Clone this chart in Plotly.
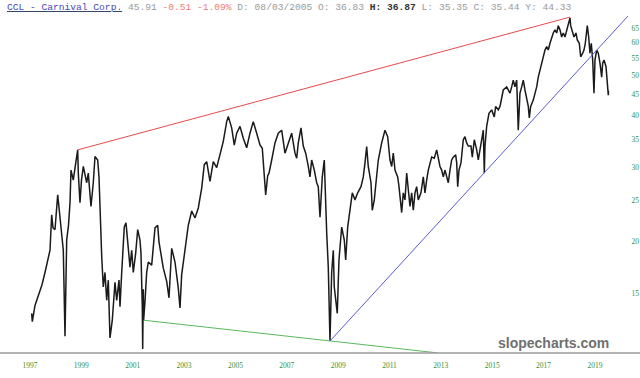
import plotly.graph_objects as go

# ---- price series (decimal year, price) ----
years = [
    1997.066, 1997.090, 1997.195, 1997.323, 1997.467, 1997.584, 1997.701, 1997.779, 1997.845, 1997.896,
    1997.974, 1998.079, 1998.168, 1998.246, 1998.297, 1998.363, 1998.390, 1998.429, 1998.499, 1998.558,
    1998.597, 1998.686, 1998.772, 1998.857, 1998.881, 1998.947, 1999.005, 1999.076, 1999.208, 1999.270,
    1999.375, 1999.465, 1999.531, 1999.636, 1999.687, 1999.737, 1999.792, 1999.854, 1999.920, 1999.987,
    2000.049, 2000.115, 2000.205, 2000.310, 2000.376, 2000.466, 2000.505, 2000.571, 2000.672, 2000.738,
    2000.804, 2000.894, 2000.960, 2001.023, 2001.116, 2001.194, 2001.283, 2001.322, 2001.373, 2001.389,
    2001.412, 2001.424, 2001.478, 2001.544, 2001.607, 2001.739, 2001.868, 2001.973, 2002.023, 2002.101,
    2002.191, 2002.323, 2002.413, 2002.518, 2002.646, 2002.775, 2002.841, 2002.907, 2003.036, 2003.164,
    2003.297, 2003.425, 2003.554, 2003.686, 2003.787, 2003.881, 2004.009, 2004.138, 2004.270, 2004.399,
    2004.527, 2004.660, 2004.722, 2004.854, 2004.955, 2005.049, 2005.177, 2005.306, 2005.438, 2005.567,
    2005.695, 2005.828, 2005.956, 2006.046, 2006.124, 2006.178, 2006.256, 2006.307, 2006.412, 2006.540,
    2006.669, 2006.801, 2006.930, 2007.058, 2007.190, 2007.319, 2007.385, 2007.448, 2007.553, 2007.642,
    2007.736, 2007.837, 2007.903, 2007.969, 2008.071, 2008.164, 2008.226, 2008.293, 2008.332, 2008.382,
    2008.460, 2008.487, 2008.554, 2008.616, 2008.663, 2008.682, 2008.748, 2008.811, 2008.849, 2008.904,
    2008.966, 2009.032, 2009.138, 2009.239, 2009.293, 2009.371, 2009.461, 2009.551, 2009.656, 2009.761,
    2009.889, 2009.979, 2010.045, 2010.111, 2010.173, 2010.279, 2010.329, 2010.407, 2010.473, 2010.563,
    2010.695, 2010.824, 2010.929, 2011.018, 2011.085, 2011.147, 2011.213, 2011.318, 2011.369, 2011.447,
    2011.474, 2011.536, 2011.603, 2011.669, 2011.731, 2011.797, 2011.863, 2011.926, 2011.992, 2012.058,
    2012.120, 2012.225, 2012.315, 2012.381, 2012.447, 2012.510, 2012.642, 2012.743, 2012.837, 2012.899,
    2012.965, 2013.031, 2013.094, 2013.160, 2013.226, 2013.289, 2013.355, 2013.421, 2013.483, 2013.577,
    2013.616, 2013.655, 2013.705, 2013.783, 2013.873, 2013.939, 2014.005, 2014.068, 2014.173, 2014.224,
    2014.302, 2014.395, 2014.457, 2014.523, 2014.589, 2014.652, 2014.691, 2014.718, 2014.784, 2014.873,
    2014.978, 2015.080, 2015.134, 2015.236, 2015.302, 2015.430, 2015.563, 2015.691, 2015.757, 2015.820,
    2015.886, 2015.952, 2016.014, 2016.080, 2016.147, 2016.209, 2016.275, 2016.341, 2016.404, 2016.443,
    2016.497, 2016.598, 2016.665, 2016.731, 2016.793, 2016.859, 2016.926, 2016.988, 2017.054, 2017.120,
    2017.183, 2017.249, 2017.315, 2017.377, 2017.443, 2017.510, 2017.572, 2017.638, 2017.704, 2017.767,
    2017.833, 2017.899, 2017.961, 2018.028, 2018.055, 2018.133, 2018.183, 2018.261, 2018.312, 2018.390,
    2018.444, 2018.522, 2018.573, 2018.624, 2018.702, 2018.756, 2018.806, 2018.857, 2018.912, 2018.962,
    2019.001, 2019.067, 2019.130, 2019.196, 2019.262, 2019.301, 2019.352, 2019.430, 2019.457, 2019.481,
    2019.520, 2019.527,
]

prices = [
    13.4, 12.8, 14.0, 14.7, 15.7, 16.8, 18.0, 19.0, 23.1, 21.5,
    21.3, 25.8, 22.8, 20.7, 19.0, 11.8, 17.3, 20.1, 21.8, 24.7,
    29.6, 28.0, 30.5, 33.1, 29.1, 24.7, 28.0, 30.2, 27.6, 29.1,
    24.2, 27.6, 31.9, 31.3, 28.5, 22.1, 18.4, 15.5, 16.8, 14.4,
    16.1, 11.7, 12.9, 15.9, 14.4, 16.1, 13.9, 16.8, 21.6, 22.1,
    20.1, 17.3, 19.0, 16.8, 18.7, 21.3, 20.1, 18.7, 13.9, 11.0,
    15.3, 12.9, 14.3, 16.8, 17.8, 17.5, 21.5, 21.8, 19.9, 18.5,
    17.2, 16.0, 14.6, 19.2, 17.8, 15.4, 13.8, 16.6, 18.8, 21.8,
    23.6, 22.7, 24.0, 26.8, 30.5, 31.0, 27.8, 31.0, 30.0, 32.2,
    34.7, 38.7, 39.8, 37.4, 34.0, 36.3, 37.7, 35.3, 33.5, 36.3,
    38.7, 36.3, 34.0, 33.4, 28.7, 25.8, 28.7, 29.1, 31.3, 34.4,
    36.3, 36.9, 32.5, 34.4, 36.3, 32.5, 31.6, 34.4, 37.4, 33.8,
    32.5, 30.2, 28.5, 31.3, 29.6, 27.6, 27.0, 22.8, 25.1, 28.5,
    31.3, 27.0, 20.9, 17.3, 12.9, 11.5, 16.8, 19.0, 15.5, 14.4,
    13.4, 18.0, 21.6, 20.1, 18.0, 21.6, 23.7, 26.1, 25.1, 26.1,
    27.0, 28.5, 30.8, 33.7, 30.2, 27.6, 23.7, 25.1, 27.6, 31.3,
    34.4, 36.9, 35.6, 31.3, 30.2, 32.5, 29.6, 28.5, 27.0, 24.2,
    23.4, 26.1, 25.1, 29.1, 26.1, 24.2, 26.1, 23.7, 26.1, 27.0,
    25.1, 26.1, 28.5, 26.1, 28.0, 29.6, 31.8, 31.6, 33.1, 31.8,
    30.2, 29.6, 28.5, 29.6, 28.5, 27.6, 29.6, 31.3, 31.8, 32.2,
    30.8, 27.0, 29.6, 30.8, 35.0, 35.6, 34.4, 33.8, 33.8, 31.8,
    35.0, 33.1, 31.3, 33.1, 34.4, 36.9, 29.1, 33.8, 37.7, 40.5,
    41.3, 39.7, 42.1, 41.3, 42.1, 46.1, 46.9, 45.3, 46.9, 48.7,
    46.9, 48.7, 36.9, 45.3, 46.9, 48.7, 46.1, 43.6, 42.1, 39.5,
    42.1, 43.6, 45.3, 46.9, 49.5, 51.5, 53.5, 55.4, 57.5, 58.6,
    57.5, 59.7, 61.8, 63.2, 64.3, 63.2, 65.8, 64.3, 61.8, 63.2,
    61.8, 64.3, 67.1, 68.7, 65.8, 63.2, 61.8, 63.2, 60.8, 59.7,
    55.4, 56.5, 57.5, 59.7, 65.8, 61.8, 56.5, 59.7, 54.4, 45.3,
    54.4, 57.5, 56.5, 53.5, 49.5, 53.5, 54.4, 52.5, 50.6, 48.7,
    44.8, 45.91,
]

# ---- trend lines (endpoints) ----
red_years = [1998.857, 2018.028]
red_prices = [33.1, 69.0]
green_years = [2001.424, 2012.849]
green_prices = [12.9, 10.77]
blue_years = [2008.682, 2020.286]
blue_prices = [11.5, 69.4]

# ---- axis ticks ----
x_tick_years = [1997, 1999, 2001, 2003, 2005, 2007, 2009, 2011, 2013, 2015, 2017, 2019]
x_tick_labels = [str(y) for y in x_tick_years]
y_tick_values = [15, 20, 25, 30, 35, 40, 45, 50, 55, 60, 65]
y_tick_labels = [str(v) for v in y_tick_values]

# ---- header values ----
ticker = "CCL - Carnival Corp."
last_price = "45.91"
change = "-0.51"
change_pct = "-1.09%"
bar_date = "08/03/2005"
bar_open = "36.83"
bar_high = "36.87"
bar_low = "35.35"
bar_close = "35.44"
bar_y = "44.33"

fig = go.Figure()
fig.add_trace(go.Scatter(x=years, y=prices, mode="lines",
                         line=dict(color="#1a1a1a", width=1.5), hoverinfo="skip"))
fig.add_trace(go.Scatter(x=red_years, y=red_prices, mode="lines",
                         line=dict(color="#e84a4a", width=1), hoverinfo="skip"))
fig.add_trace(go.Scatter(x=green_years, y=green_prices, mode="lines",
                         line=dict(color="#5cb85c", width=1), hoverinfo="skip"))
fig.add_trace(go.Scatter(x=blue_years, y=blue_prices, mode="lines",
                         line=dict(color="#5a5ad6", width=1), hoverinfo="skip"))

tick_font = dict(family="Liberation Serif, serif", size=7.5, color="#3a8f3a")

fig.update_layout(
    width=640, height=378,
    margin=dict(l=0, r=12, t=12, b=25),
    paper_bgcolor="white", plot_bgcolor="white",
    showlegend=False,
    hovermode=False,
    xaxis=dict(range=[1995.832, 2020.287], tickmode="array",
               tickvals=x_tick_years, ticktext=x_tick_labels,
               showgrid=False, zeroline=False, showline=False,
               ticks="outside", ticklen=5, tickcolor="rgba(0,0,0,0)",
               tickfont=tick_font, fixedrange=True),
    yaxis=dict(type="log", side="right", range=[1.0318, 1.8511],
               tickmode="array", tickvals=y_tick_values, ticktext=y_tick_labels,
               showgrid=False, zeroline=False, showline=False,
               ticks="outside", ticklen=1, tickcolor="rgba(0,0,0,0)",
               tickfont=tick_font, fixedrange=True),
)

# bottom axis line spanning whole width
fig.add_shape(type="line", xref="paper", yref="paper", x0=0, x1=1.02, y0=0, y1=0,
              line=dict(color="#9a9a9a", width=1.5))

header = (
    f'<u><span style="color:#4848b8">{ticker}</span></u> '
    f'<span style="color:#9a9a9a">{last_price}</span> '
    f'<span style="color:#f07a7a">{change} {change_pct}</span> '
    f'<span style="color:#9a9a9a">D: {bar_date} O: {bar_open}</span> '
    f'<b><span style="color:#333333">H: {bar_high}</span></b> '
    f'<span style="color:#9a9a9a">L: {bar_low} C: {bar_close} Y: {bar_y}</span>'
)
fig.add_annotation(text=header, xref="paper", yref="paper", x=5 / 628, y=(353 - 7) / 341,
                   xanchor="left", yanchor="middle", showarrow=False,
                   font=dict(family="Courier New, Liberation Mono, monospace", size=9.6))

fig.add_annotation(text="<b>slopecharts.com</b>", xref="paper", yref="paper",
                   x=553 / 628, y=(353 - 343) / 341, xanchor="center", yanchor="middle",
                   showarrow=False,
                   font=dict(family="Liberation Sans, Arial, sans-serif", size=14, color="#707070"))

# remove the browser's default body margin so the 640x378 figure fills the window
fig.write_html("out.html", config={"displayModeBar": False},
               post_script="document.body.style.margin='0';document.body.style.padding='0';")
